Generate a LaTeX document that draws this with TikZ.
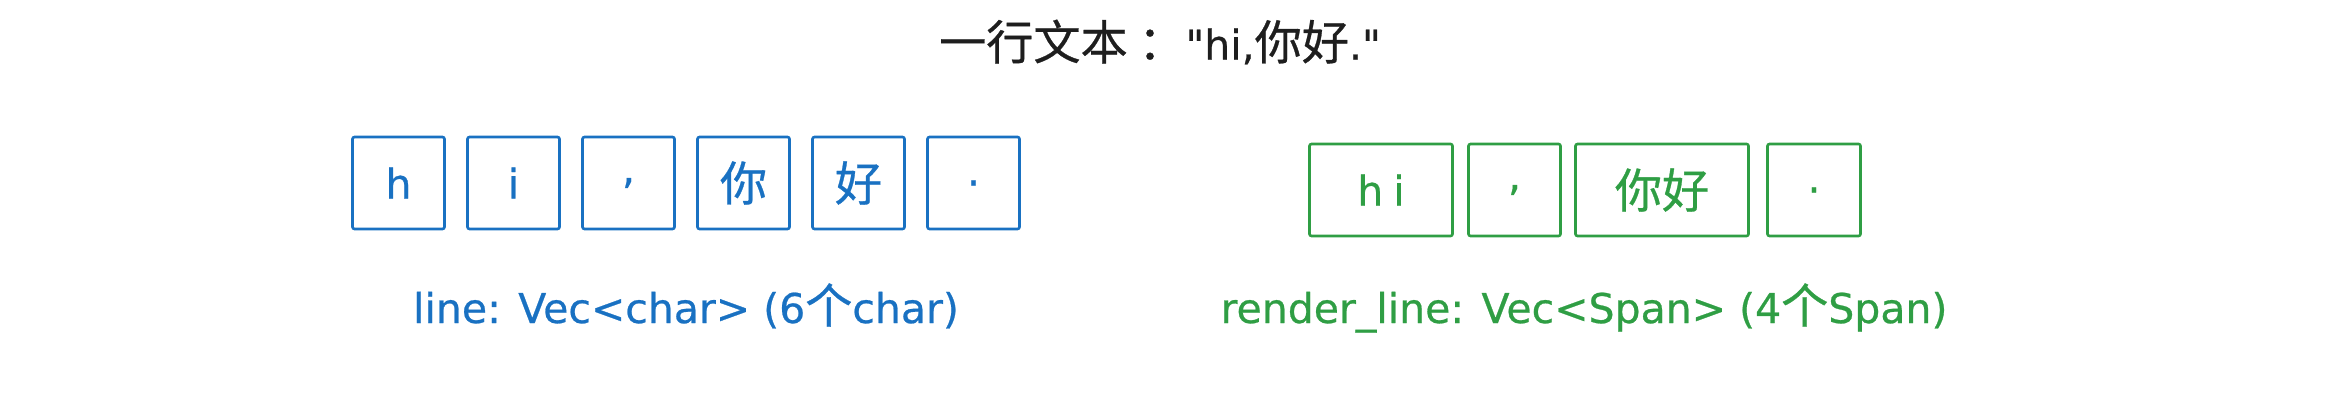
\documentclass[tikz,border=0pt]{standalone}
\usepackage{fontspec}
\setmainfont{DejaVu Sans}[Ligatures=TeXOff, FakeBold=0.6]
\newfontfamily\cjk{Noto Sans CJK SC}[Scale=1.15, FakeBold=0.6]
\definecolor{charblue}{HTML}{1971C2}
\definecolor{spangreen}{HTML}{2F9E44}
\definecolor{inkblack}{HTML}{1E1E1E}

\begin{document}
\begin{tikzpicture}[x=1pt, y=1pt]
                \tikzstyle{txt}=[inner sep=0pt, font=\fontsize{41}{48}\selectfont]
                \tikzstyle{cell}=[txt, draw, line width=2.6pt, rounded corners=2pt, minimum height=92pt]
                \tikzstyle{charcell}=[cell, draw=charblue, text=charblue, minimum width=92pt]
                \tikzstyle{spancell}=[cell, draw=spangreen, text=spangreen]

                \useasboundingbox (0,0) rectangle (2350,410);

                \node[txt, text=inkblack] (title) at (1160,368) {{\cjk 一行文本 ：}"hi,{\cjk 你好}."};

                % line: one cell per char
                \node[charcell] (c1) at (398.5,227) {h};
                \node[charcell] (c2) at (513.5,227) {i};
                \node[charcell] (c3) at (628.5,227) {,};
                \node[charcell] (c4) at (743.5,227) {\cjk 你};
                \node[charcell] (c5) at (858.5,227) {\cjk 好};
                \node[charcell] (c6) at (973.5,227) {.};

                % render_line: one cell per span
                \node[spancell, minimum width=143pt] (s1) at (1381,220) {h\hspace{10pt}i};
                \node[spancell, minimum width=92pt]  (s2) at (1514.5,220) {,};
                \node[spancell, minimum width=173pt] (s3) at (1662,220) {\cjk 你好};
                \node[spancell, minimum width=93pt]  (s4) at (1814,220) {.};

                \node[txt, anchor=base, text=charblue]  (linelabel)   at (686,87)  {line: Vec<char> (6{\cjk 个}char)};
                \node[txt, anchor=base, text=spangreen] (renderlabel) at (1584,87) {render\_line: Vec<Span> (4{\cjk 个}Span)};
            \end{tikzpicture}
\end{document}
